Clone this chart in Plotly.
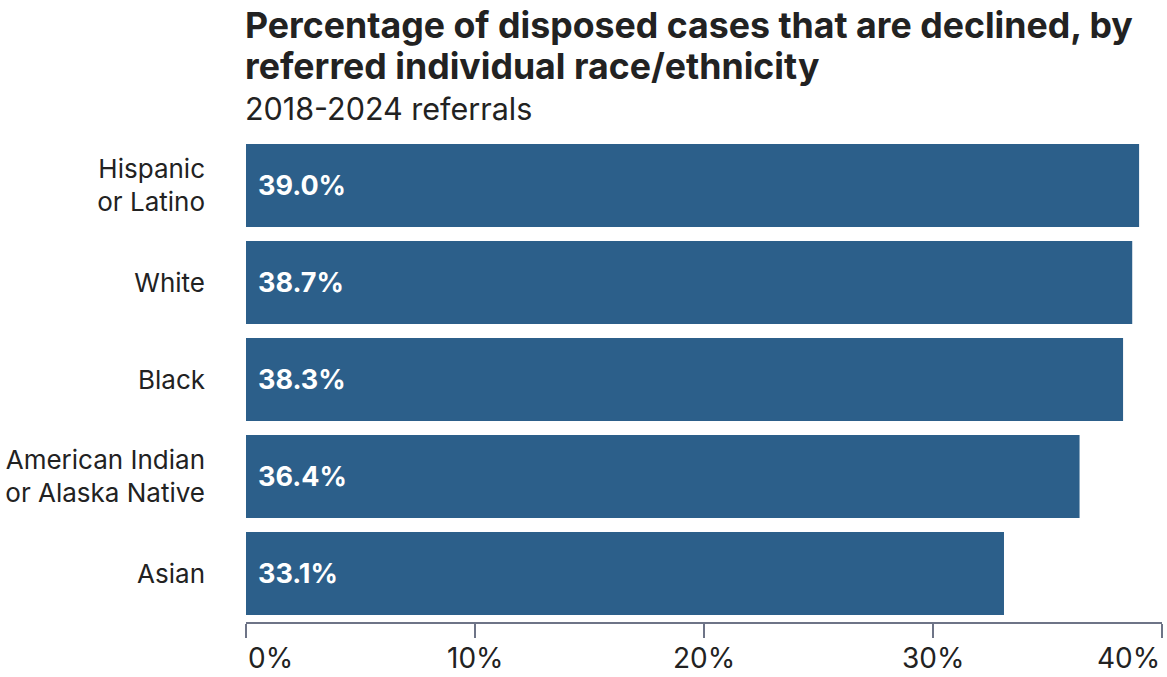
import plotly.graph_objects as go

# Share of disposed cases declined, per referred individual race/ethnicity
groups = ["Hispanic<br>or Latino", "White", "Black", "American Indian<br>or Alaska Native", "Asian"]
declined_pct = [39.0, 38.7, 38.3, 36.4, 33.1]
tick_vals = [0, 10, 20, 30, 40]
tick_text = ["0%", "10%", "20%", "30%", "40%"]

title_lines = ["Percentage of disposed cases that are declined, by",
               "referred individual race/ethnicity"]
subtitle = "2018-2024 referrals"

FONT = "Inter, Lato, sans-serif"
BAR_COLOR = "#2c5f8a"
AXIS_COLOR = "#6e7487"
TEXT_COLOR = "#222222"

W, H = 1167, 677
M_L, M_R, M_T, M_B = 246, 5, 137, 55
PLOT_W = W - M_L - M_R
PLOT_H = H - M_T - M_B


def px_to_paper_y(py):
    return (H - M_B - py) / PLOT_H


def px_to_paper_x(px):
    return (px - M_L) / PLOT_W


fig = go.Figure(
    go.Bar(
        x=declined_pct,
        y=groups,
        orientation="h",
        marker=dict(color=BAR_COLOR, line=dict(width=0)),
        hoverinfo="skip",
    )
)

annotations = []
# Value labels placed just inside the left edge of each bar
for g, v in zip(groups, declined_pct):
    annotations.append(dict(
        x=0, y=g, xref="x", yref="y", text=f"<b>{v:.1f}%</b>",
        showarrow=False, xanchor="left", yanchor="middle", xshift=10,
        font=dict(family=FONT, size=27, color="white"),
    ))

# X tick labels: outer ones aligned to the plot edges, inner ones centered
anchors = ["left", "center", "center", "center", "right"]
for tv, tt, anc in zip(tick_vals, tick_text, anchors):
    annotations.append(dict(
        x=tv, y=0, xref="x", yref="paper", text=tt, showarrow=False,
        xanchor=anc, yanchor="bottom", yshift=-55,
        font=dict(family=FONT, size=28, color=TEXT_COLOR),
    ))

# Title (two bold lines) and subtitle, left-aligned above the plot
for text, cy in zip(title_lines, [25, 66]):
    annotations.append(dict(
        x=px_to_paper_x(243), y=px_to_paper_y(cy), xref="paper", yref="paper",
        text=f"<b>{text}</b>", showarrow=False, xanchor="left", yanchor="middle",
        font=dict(family=FONT, size=35.7, color=TEXT_COLOR),
    ))
annotations.append(dict(
    x=px_to_paper_x(243), y=px_to_paper_y(108), xref="paper", yref="paper",
    text=subtitle, showarrow=False, xanchor="left", yanchor="middle",
    font=dict(family=FONT, size=30.5, color=TEXT_COLOR),
))

fig.update_layout(
    width=W, height=H,
    margin=dict(l=M_L, r=M_R, t=M_T, b=M_B),
    paper_bgcolor="white", plot_bgcolor="white",
    bargap=0.145,
    showlegend=False,
    font=dict(family=FONT, color=TEXT_COLOR),
    xaxis=dict(
        range=[0, 40], tickvals=tick_vals, showticklabels=False,
        showgrid=False, zeroline=False,
        showline=True, linecolor=AXIS_COLOR, linewidth=1.5,
        ticks="outside", ticklen=14, tickcolor=AXIS_COLOR, tickwidth=1.5,
        fixedrange=True,
    ),
    yaxis=dict(
        categoryorder="array", categoryarray=groups, autorange="reversed",
        showgrid=False, zeroline=False, showline=False, ticks="",
        ticklabelstandoff=40,
        tickfont=dict(family=FONT, size=26, color=TEXT_COLOR),
        fixedrange=True,
    ),
    annotations=annotations,
)

fig.write_html("out.html")
